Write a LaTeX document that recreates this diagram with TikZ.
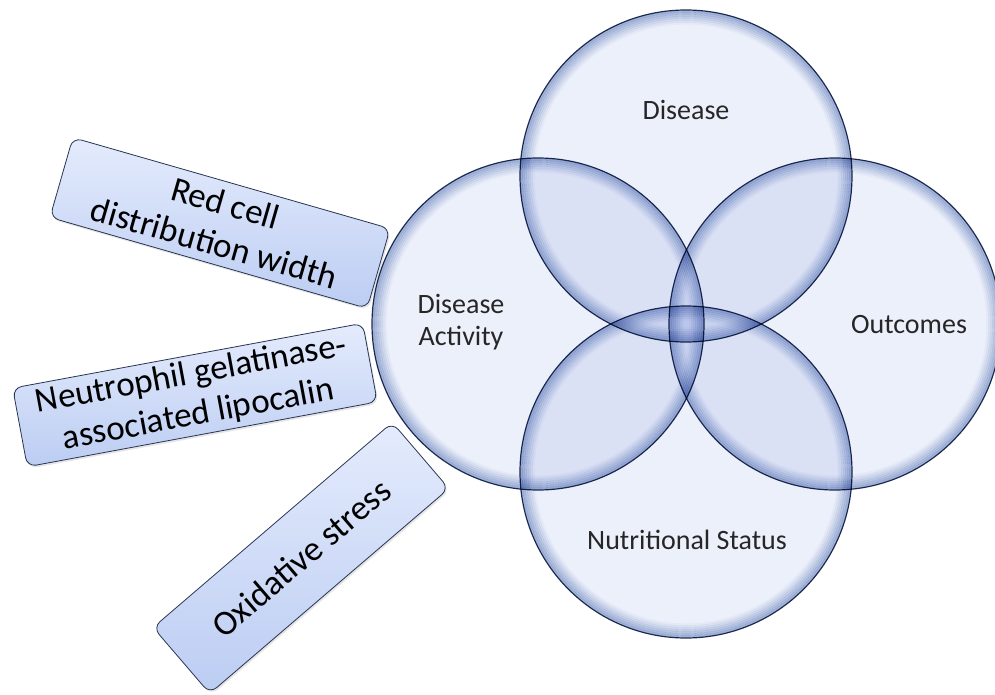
\documentclass[tikz,border=0pt]{standalone}
\usepackage{fontspec}
\setmainfont{Carlito}
\usetikzlibrary{positioning,shadows}

\definecolor{glassin}{RGB}{236,240,250}
\definecolor{glassrim}{RGB}{120,146,198}
\definecolor{glassline}{RGB}{30,45,82}
\definecolor{boxtop}{RGB}{228,235,252}
\definecolor{boxbot}{RGB}{188,205,243}
\definecolor{boxline}{RGB}{40,52,80}

\begin{document}
\begin{tikzpicture}[
  x=1pt,y=-1pt,
  bubble/.style={circle,draw=glassline,line width=1.2pt,fill=glassin,
                 minimum size=332pt,inner sep=0pt},
  venntext/.style={font=\fontsize{28}{32}\selectfont,text=black!85,align=center},
  factor/.style={rectangle,draw=boxline,line width=0.8pt,rounded corners=9pt,
                 top color=boxtop,bottom color=boxbot,align=center,inner sep=0pt,
                 font=\fontsize{35}{41}\selectfont,
                 drop shadow={opacity=0.2,shadow xshift=1.5pt,shadow yshift=-2pt}}
]
  \useasboundingbox (0,0) rectangle (995,695);
  % the four sets
  \begin{scope}[blend group=multiply]
    \node[bubble] (disease)   at (686,176) {};
    \node[bubble] (activity)  at (538,324) {};
    \node[bubble] (outcomes)  at (835,324) {};
    \node[bubble] (nutrition) at (686,472) {};
    % glassy rim
    \foreach \c in {disease,activity,outcomes,nutrition}
      \foreach \k in {0,...,6}{
        \pgfmathtruncatemacro{\p}{60-9*\k}
        \draw[line width=2.1pt,glassrim!\p!white] (\c.center) circle[radius=164.5-2*\k];
      }
  \end{scope}
  \node[venntext] (tdisease)   at (686,110) {Disease};
  \node[venntext] (tactivity)  at (461,322) {Disease\\Activity};
  \node[venntext] (toutcomes)  at (909,325) {Outcomes};
  \node[venntext] (tnutrition) at (687,540) {Nutritional Status};
  % markers
  \node[factor,minimum width=330pt,minimum height=83pt,rotate=-16] (rdw) at (220,223)
    {Red cell\\distribution width};
  \node[factor,minimum width=356pt,minimum height=80pt,rotate=10.5] (ngal) at (195,395)
    {Neutrophil gelatinase-\\associated lipocalin};
  \node[factor,minimum width=315pt,minimum height=87pt,rotate=40.6] (oxstress) at (301,558)
    {Oxidative stress};
\end{tikzpicture}
\end{document}
